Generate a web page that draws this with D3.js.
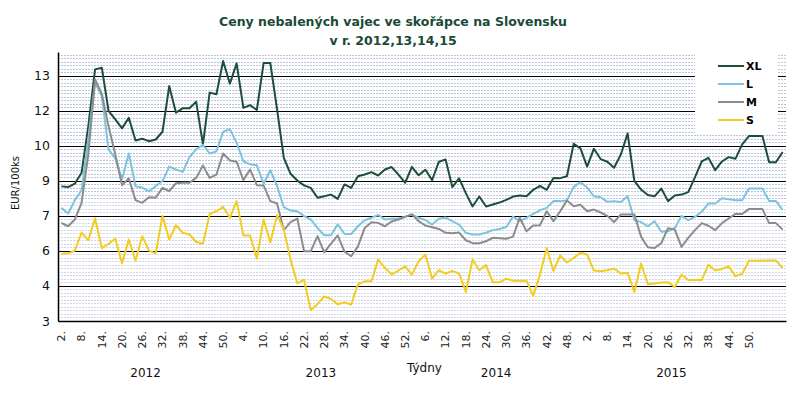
<!DOCTYPE html>
<html><head><meta charset="utf-8">
<script src="https://cdn.jsdelivr.net/npm/d3@7"></script>
<style>body{margin:0;background:#fff;} text{font-family:"DejaVu Sans",Verdana,sans-serif;}</style>
</head><body>
<script>
const years = ["2012","2013","2014","2015"];
const seriesNames = ["XL","L","M","S"];
const seriesColors = ["#1d4e3b","#7cc4de","#8c8c8c","#f2cc21"];
const xTickLabels = ["2.","8.","14.","20.","26.","32.","38.","44.","50.",
  "4.","10.","16.","22.","28.","34.","40.","46.","52.",
  "6.","12.","18.","24.","30.","36.","42.","48.",
  "2.","8.","14.","20.","26.","32.","38.","44.","50."];
const yTickValues = [3, 4.45, 5.9, 7.35, 8.8, 10.25, 11.7, 13.15];
const yTickLabels = ["3","4","6","7","9","10","12","13"];

const xlValues = [8.57,8.54,8.68,9.13,11.06,13.41,13.48,11.69,11.34,10.97,
11.41,10.47,10.54,10.44,10.51,10.83,12.72,11.62,11.80,11.80,
12.07,10.31,12.45,12.38,13.76,12.82,13.66,11.82,11.93,11.73,
13.67,13.67,11.76,9.75,9.09,8.81,8.61,8.51,8.10,8.16,
8.23,8.05,8.65,8.51,8.99,9.06,9.16,9.02,9.27,9.37,
9.06,8.72,9.38,9.03,9.26,8.83,9.59,9.68,8.54,8.90,
8.29,7.74,8.15,7.74,7.82,7.90,8.01,8.15,8.19,8.16,
8.43,8.59,8.43,8.92,8.91,8.99,10.33,10.14,9.39,10.13,
9.70,9.59,9.34,9.89,10.76,8.80,8.44,8.21,8.16,8.48,
7.96,8.19,8.23,8.33,8.95,9.60,9.75,9.24,9.60,9.78,
9.71,10.31,10.65,10.65,10.65,9.57,9.57,9.99];
const lValues = [7.68,7.45,8.00,8.41,10.51,12.86,12.31,10.10,9.73,8.86,
9.93,8.57,8.52,8.36,8.58,8.79,9.39,9.27,9.17,9.78,
10.10,10.29,9.93,10.02,10.83,10.94,10.37,9.61,9.48,9.44,
8.68,9.24,8.58,7.71,7.57,7.54,7.34,7.20,6.85,6.55,
6.55,7.00,6.60,6.60,6.92,7.17,7.27,7.39,7.20,7.23,
7.23,7.32,7.41,7.27,7.18,6.99,7.23,7.28,7.13,6.99,
6.65,6.58,6.58,6.65,6.76,6.81,6.89,7.32,7.13,7.27,
7.43,7.58,7.68,7.96,7.96,7.99,8.55,8.74,8.52,8.16,
8.12,7.93,7.96,7.92,8.16,7.18,7.09,6.92,7.13,6.69,
6.71,6.85,7.35,7.17,7.31,7.52,7.86,7.86,8.08,8.04,
8.00,8.00,8.48,8.48,8.48,7.96,7.96,7.60];
const mValues = [7.06,6.92,7.20,7.89,9.89,13.00,12.40,11.06,9.89,8.62,
8.90,8.00,7.89,8.12,8.10,8.51,8.37,8.70,8.72,8.72,
8.92,9.44,8.92,9.06,9.93,9.64,9.59,8.83,9.27,8.62,
8.61,7.96,7.86,6.76,7.09,7.24,5.89,5.89,6.51,5.84,
6.20,6.54,5.87,5.68,6.09,6.85,7.09,7.06,6.92,7.12,
7.20,7.31,7.41,7.13,6.95,6.88,6.81,6.65,6.63,6.66,
6.34,6.22,6.22,6.30,6.44,6.42,6.40,6.49,7.28,6.71,
6.95,6.96,7.54,7.13,7.54,7.99,7.75,7.81,7.54,7.61,
7.49,7.35,7.09,7.41,7.41,7.41,6.49,6.05,6.02,6.22,
6.84,6.78,6.07,6.44,6.76,7.05,6.94,6.76,7.05,7.24,
7.43,7.43,7.63,7.63,7.63,7.05,7.05,6.78];
const sValues = [5.78,5.80,5.91,6.66,6.34,7.25,6.01,6.19,6.40,5.39,
6.37,5.50,6.51,5.91,5.80,7.35,6.37,6.96,6.65,6.58,
6.27,6.20,7.43,7.54,7.72,7.27,7.96,6.54,6.54,5.58,
7.20,6.25,7.38,6.78,5.54,4.56,4.71,3.44,3.70,4.02,
3.91,3.69,3.77,3.68,4.52,4.64,4.64,5.54,5.20,4.92,
5.09,5.26,4.92,5.47,5.75,4.75,5.10,4.96,5.07,4.97,
4.20,5.54,5.10,5.31,4.60,4.60,4.75,4.67,4.67,4.67,
4.04,4.92,6.01,5.07,5.71,5.42,5.61,5.82,5.75,5.09,
5.06,5.10,5.17,4.97,5.00,4.20,5.38,4.52,4.55,4.59,
4.60,4.41,4.92,4.70,4.70,4.70,5.33,5.09,5.15,5.26,
4.85,4.95,5.49,5.49,5.49,5.50,5.50,5.20];

// categories: even weeks of each year (26 per year) + 4 unlabeled trailing weeks
const categories = [];
years.forEach(yr => { for (let w = 2; w <= 52; w += 2) categories.push({year: yr, week: w}); });
["2","4","6","8"].forEach(w => categories.push({year: "", week: +w}));

(function draw() {
const W = 802, H = 409;
const pL = 58, pR = 786, pT = 52, pB = 321;
const svg = d3.select("body").append("svg").attr("width", W).attr("height", H);
svg.append("rect").attr("width", W).attr("height", H).attr("fill", "#fff");

const x = d3.scaleBand().domain(d3.range(categories.length)).range([pL, pR]);
const y = d3.scaleLinear().domain([3, 14.13]).range([pB, pT]);
const cx = i => x(i) + x.bandwidth() / 2;

// minor grid
const minorStep = (yTickValues[1] - yTickValues[0]) / 10;
const minor = d3.range(1, 200).map(k => 3 + k * minorStep).filter(v => v <= 14.13 + 1e-6);
svg.append("g").selectAll("line").data(minor).join("line")
  .attr("x1", pL).attr("x2", pR)
  .attr("y1", d => Math.round(y(d)) + 0.5).attr("y2", d => Math.round(y(d)) + 0.5)
  .attr("stroke", d => d > 8 ? "#bcc4de" : "#d2d7e6").attr("stroke-width", 1).attr("stroke-dasharray", "2,1");
// major grid
svg.append("g").selectAll("line").data(yTickValues.slice(1)).join("line")
  .attr("x1", pL).attr("x2", pR)
  .attr("y1", d => Math.round(y(d)) + 0.5).attr("y2", d => Math.round(y(d)) + 0.5)
  .attr("stroke", "#000").attr("stroke-width", 1);

// legend background (covers grid)
const lg = svg.append("g");
lg.append("rect").attr("x", 695).attr("y", 54).attr("width", 83).attr("height", 80).attr("fill", "#fff");

// lines
const allSeries = [xlValues, lValues, mValues, sValues];
const line = d3.line().x((d, i) => cx(i)).y(d => y(d));
allSeries.forEach((vals, k) => {
  svg.append("path").datum(vals).attr("d", line)
    .attr("fill", "none").attr("stroke", seriesColors[k]).attr("stroke-width", 2)
    .attr("stroke-linejoin", "round");
});

// legend entries
seriesNames.forEach((n, k) => {
  const yy = 66 + k * 18;
  lg.append("line").attr("x1", 718).attr("x2", 744).attr("y1", yy).attr("y2", yy)
    .attr("stroke", seriesColors[k]).attr("stroke-width", 2);
  lg.append("text").attr("x", 746).attr("y", yy).attr("dy", "0.35em")
    .attr("font-size", 11).attr("font-weight", "bold").attr("fill", "#000").text(n);
});

// y axis
const yAxis = svg.append("g").attr("transform", `translate(${pL},0)`)
  .call(d3.axisLeft(y).tickValues(yTickValues).tickFormat((d, i) => yTickLabels[i]).tickSize(0).tickPadding(8));
yAxis.select(".domain").attr("stroke", "#000").attr("stroke-width", 1.5);
yAxis.selectAll("text").attr("font-size", 12.5).attr("fill", "#111").attr("font-family", "DejaVu Sans");

// x axis
const labeled = d3.range(0, 104, 3);
const xAxis = svg.append("g").attr("transform", `translate(0,${pB})`)
  .call(d3.axisBottom(x).tickValues(labeled).tickFormat((d, i) => xTickLabels[i]).tickSize(0));
xAxis.select(".domain").attr("stroke", "#000").attr("stroke-width", 1.5);
xAxis.selectAll("text").attr("font-size", 11).attr("fill", "#222").attr("font-family", "DejaVu Sans")
  .attr("transform", "rotate(-90)").attr("text-anchor", "end")
  .attr("x", -10).attr("y", 0).attr("dy", "0.35em");

// year labels
years.forEach((yr, k) => {
  svg.append("text").attr("x", x(k * 26 + 13)).attr("y", 377)
    .attr("text-anchor", "middle").attr("font-size", 12).attr("fill", "#111").text(yr);
});
svg.append("text").attr("x", 407).attr("y", 372).attr("font-size", 12).attr("fill", "#111").text("Týdny");

// y title
svg.append("text").attr("transform", "translate(19,183) rotate(-90)")
  .attr("text-anchor", "middle").attr("font-size", 10).attr("fill", "#111").text("EUR/100ks");

// title
svg.append("text").attr("x", 393).attr("y", 26).attr("text-anchor", "middle")
  .attr("font-size", 12.5).attr("font-weight", "bold").attr("fill", "#1a4a36")
  .text("Ceny nebalených vajec ve skořápce na Slovensku");
svg.append("text").attr("x", 393).attr("y", 45).attr("text-anchor", "middle")
  .attr("font-size", 12.5).attr("font-weight", "bold").attr("fill", "#1a4a36")
  .text("v r. 2012,13,14,15");
})();
</script>
</body></html>
